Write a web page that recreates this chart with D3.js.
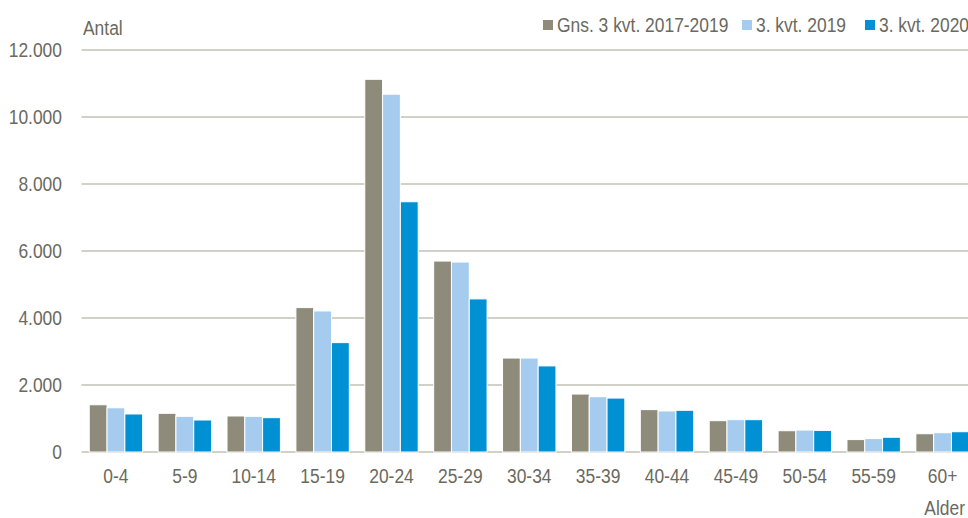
<!DOCTYPE html>
<html>
<head>
<meta charset="utf-8">
<script src="https://cdn.jsdelivr.net/npm/d3@7"></script>
<style>
  body { margin: 0; background: #fff; }
  svg text { font-family: "Liberation Sans", Arial, sans-serif; fill: #6b6a5e; }
</style>
</head>
<body>
<script>
// age groups on the x axis
var ageGroups = ["0-4","5-9","10-14","15-19","20-24","25-29","30-34","35-39","40-44","45-49","50-54","55-59","60+"];
var seriesNames = ["Gns. 3 kvt. 2017-2019","3. kvt. 2019","3. kvt. 2020"];
var avg20172019 = [1410,1155,1075,4310,11125,5700,2805,1730,1265,935,635,370,545];
var q3of2019 = [1320,1065,1065,4210,10680,5670,2805,1650,1225,965,655,400,575];
var q3of2020 = [1135,955,1025,3265,7470,4570,2570,1610,1245,965,645,440,605];
var yTicks = [0,2000,4000,6000,8000,10000,12000];
var colors = ["#8e8b7b","#a5cbee","#0091d5"];

function init() {
    var w = 968;
    var h = 518;
    var left = 81.5, right = 977, top = 50, bottom = 452;
    var fontSize = "21px";
    // narrow look of the original font
    var squeeze = "scale(0.83,1)";

    var seriesData = [avg20172019, q3of2019, q3of2020];

    var x0 = d3.scaleBand()
                .domain(ageGroups)
                .range([left, right])
                .paddingInner(0.225)
                .paddingOuter(0.1125);
    var x1 = d3.scaleBand()
                .domain(d3.range(seriesNames.length))
                .range([0, x0.bandwidth()]);
    var yScale = d3.scaleLinear()
                .domain([0, 12000])
                .range([bottom, top]);

    var svg = d3.select("body")
                .append("svg")
                .attr("width", w)
                .attr("height", h);

    // gridlines
    svg.append("g")
        .selectAll("line")
        .data(yTicks)
        .enter()
        .append("line")
        .attr("x1", left)
        .attr("x2", w)
        .attr("y1", d => yScale(d))
        .attr("y2", d => yScale(d))
        .attr("stroke", "#c3c2b6")
        .attr("stroke-width", 1.3);

    // bars
    var groups = svg.append("g")
        .selectAll("g")
        .data(ageGroups)
        .enter()
        .append("g")
        .attr("transform", d => "translate(" + x0(d) + ",0)");

    groups.selectAll("rect")
        .data((d, i) => seriesData.map((s, k) => ({k: k, v: s[i]})))
        .enter()
        .append("rect")
        .attr("x", d => x1(d.k))
        .attr("y", d => yScale(d.v))
        .attr("width", x1.bandwidth())
        .attr("height", d => bottom - yScale(d.v))
        .attr("fill", d => colors[d.k])
        .attr("stroke", "#fff")
        .attr("stroke-width", 1);

    // y axis labels
    var yAxis = d3.axisLeft(yScale)
                .tickValues(yTicks)
                .tickSize(0)
                .tickPadding(0)
                .tickFormat(d => d3.format(",")(d).replace(/,/g, "."));
    var yg = svg.append("g")
        .attr("transform", "translate(62,0)")
        .call(yAxis);
    yg.select(".domain").remove();
    yg.selectAll("text")
        .style("font-size", fontSize)
        .attr("fill", "#6b6a5e")
        .attr("transform", squeeze);

    // x axis labels
    var xAxis = d3.axisBottom(x0).tickSize(0).tickPadding(0);
    var xg = svg.append("g")
        .attr("transform", "translate(0,468)")
        .call(xAxis);
    xg.select(".domain").remove();
    xg.selectAll("text")
        .style("font-size", fontSize)
        .attr("fill", "#6b6a5e")
        .attr("transform", squeeze);

    svg.append("text")
        .attr("transform", "translate(83,35) " + squeeze)
        .style("font-size", fontSize)
        .text("Antal");
    svg.append("text")
        .attr("transform", "translate(965,515) " + squeeze)
        .attr("text-anchor", "end")
        .style("font-size", fontSize)
        .text("Alder");

    // legend
    var legendX = [543, 742, 865];
    var legend = svg.append("g")
        .selectAll("g")
        .data(seriesNames)
        .enter()
        .append("g")
        .attr("transform", (d, i) => "translate(" + legendX[i] + ",0)");
    legend.append("rect")
        .attr("x", 0)
        .attr("y", 20)
        .attr("width", 10)
        .attr("height", 10)
        .attr("fill", (d, i) => colors[i]);
    legend.append("text")
        .attr("transform", "translate(14,32) " + squeeze)
        .style("font-size", fontSize)
        .text(d => d);
}
window.onload = init;
</script>
</body>
</html>
